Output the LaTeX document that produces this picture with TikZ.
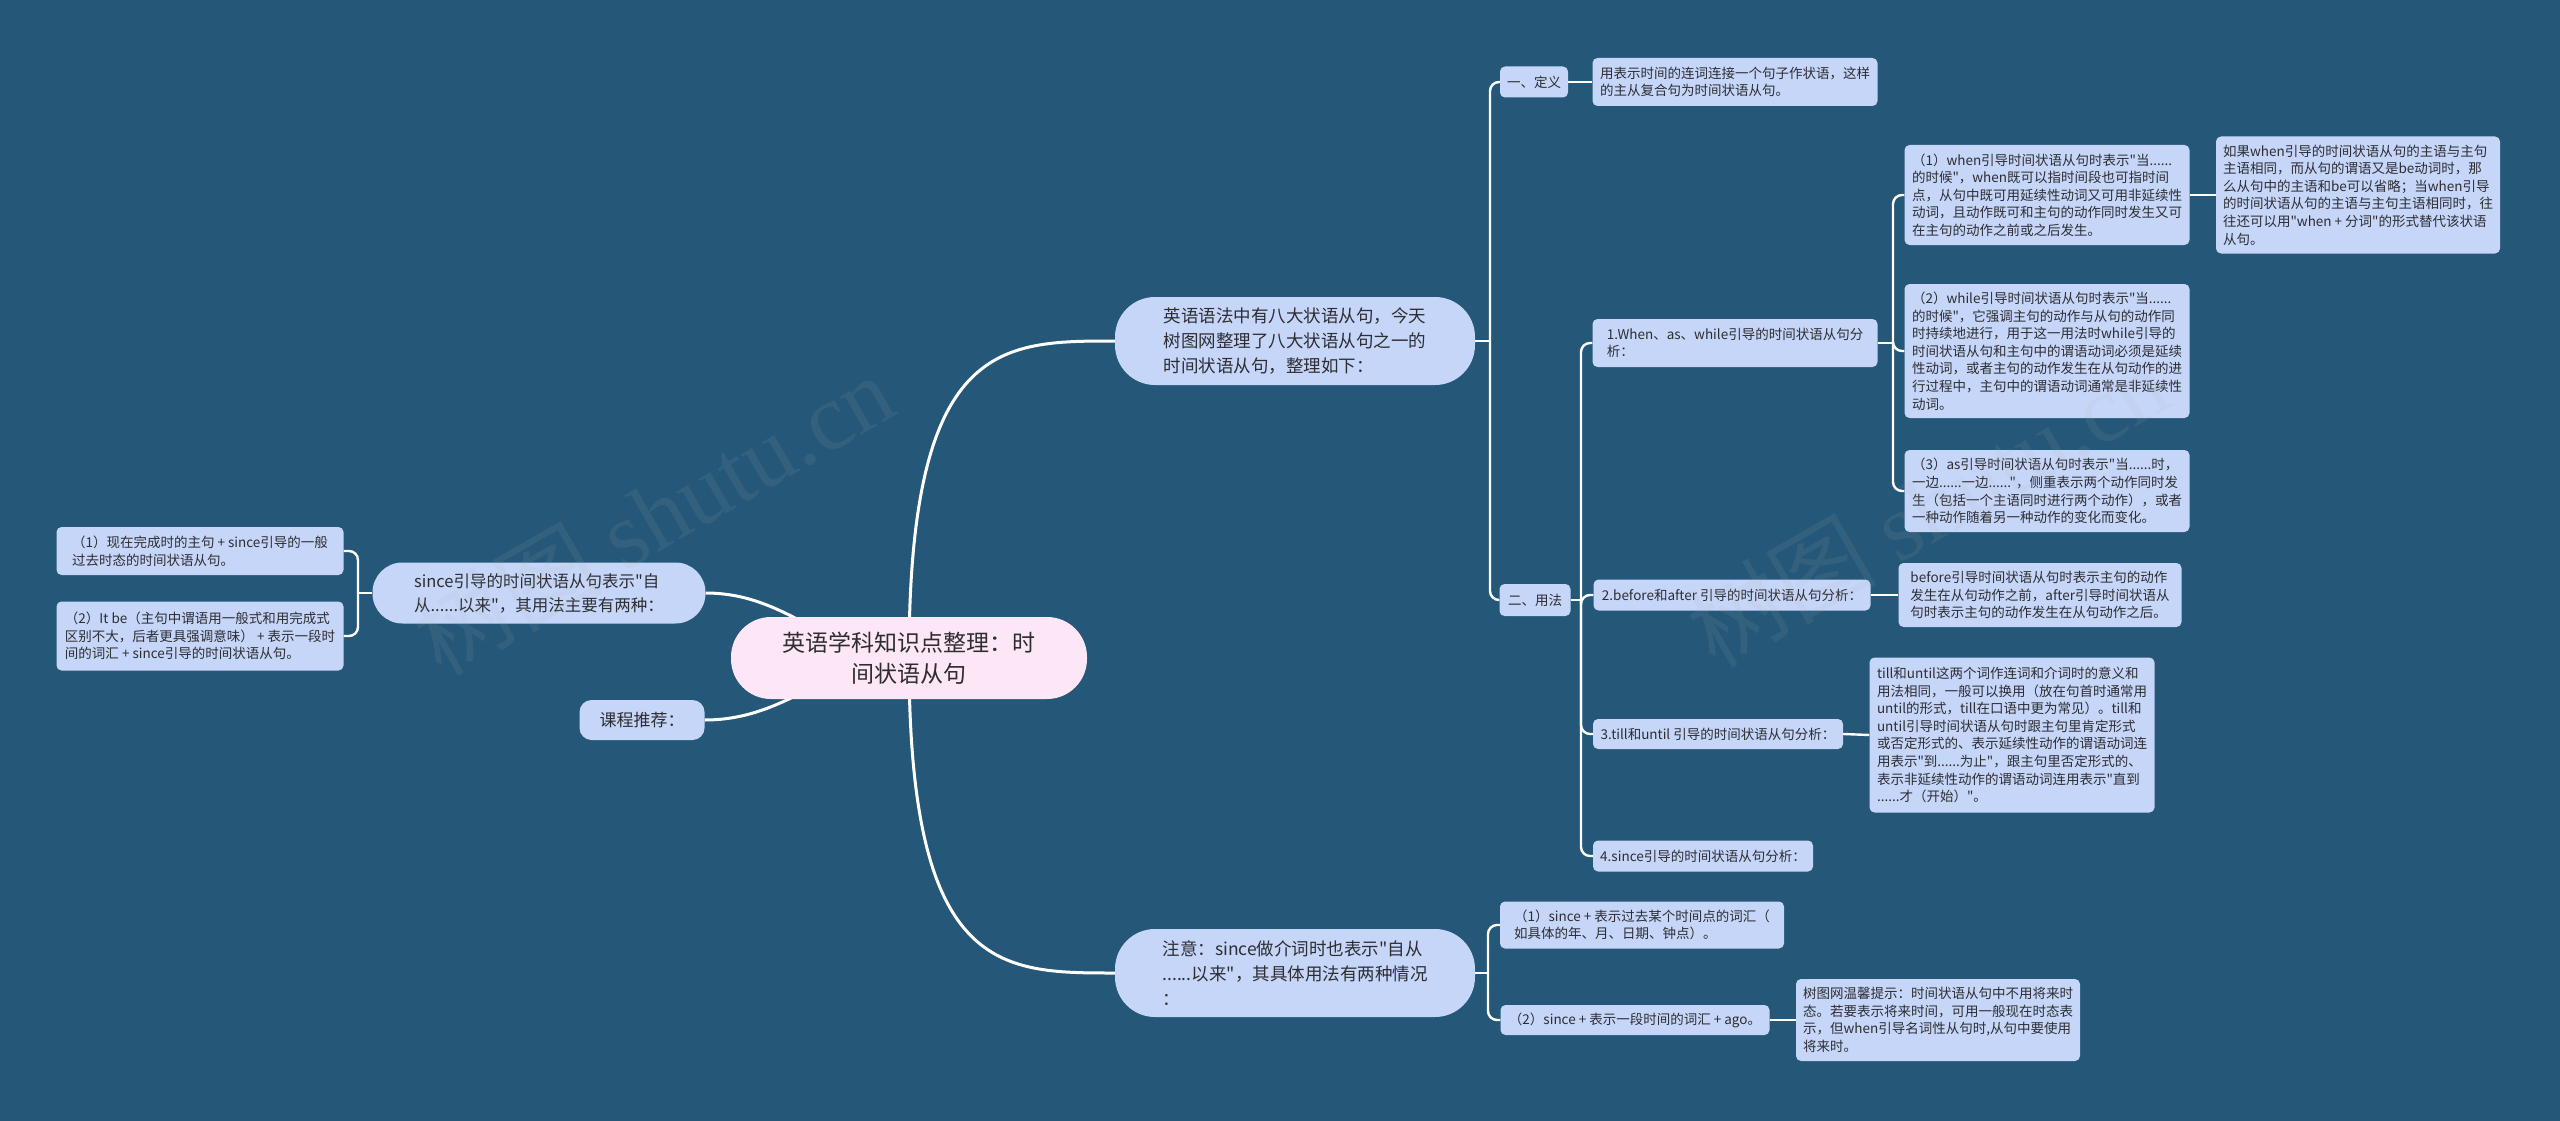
\documentclass[tikz,border=0pt]{standalone}
\usepackage{fontspec}
\newfontfamily\cjk{Noto Sans CJK SC}
\newfontfamily\wmserif{Liberation Serif}
\usetikzlibrary{backgrounds}
\definecolor{bgblue}{RGB}{37,87,120}
\definecolor{nodeblue}{RGB}{198,214,248}
\definecolor{rootpink}{RGB}{253,230,245}
\definecolor{txt}{RGB}{45,45,50}
\tikzset{
  box/.style={fill=nodeblue, text=txt, align=left, inner sep=0pt, anchor=center},
  leaf/.style={box, rounded corners=5pt, font=\cjk\fontsize{13.5}{17.6}\selectfont},
  pill/.style={box, rounded corners=40pt, font=\cjk\fontsize{17.5}{25}\selectfont},
  rootbox/.style={box, fill=rootpink, align=center, rounded corners=40pt, font=\cjk\fontsize{23}{31}\selectfont},
  conn/.style={draw=white, line width=2.4pt},
  bconn/.style={draw=white, line width=2.4pt, rounded corners=9pt},
  mainconn/.style={draw=white, line width=3pt},
  wmark/.style={text=gray!60, opacity=0.1, rotate=30, font=\cjk\fontsize{95}{95}\selectfont}
}
\begin{document}
\begin{tikzpicture}[x=1pt,y=-1pt]
\useasboundingbox (0,0) rectangle (2560,1121);
% nodes
\node[rootbox, minimum width=356pt, minimum height=82pt] (root) at (909,658) {英语学科知识点整理：时\\间状语从句};
\node[pill, minimum width=360pt, minimum height=88pt] (b1) at (1295,341) {英语语法中有八大状语从句，今天\\树图网整理了八大状语从句之一的\\时间状语从句，整理如下：};
\node[pill, minimum width=360pt, minimum height=88pt] (b3) at (1295,973) {注意：since做介词时也表示"自从\\......以来"，其具体用法有两种情况\\：};
\node[pill, rounded corners=30pt, font=\cjk\fontsize{16.5}{24}\selectfont, minimum width=333pt, minimum height=61pt] (bl) at (539,593) {since引导的时间状语从句表示"自\\从......以来"，其用法主要有两种：};
\node[pill, rounded corners=12pt, font=\cjk\fontsize{17}{24}\selectfont, minimum width=125pt, minimum height=40pt] (kc) at (642,720) {课程推荐：};
\node[leaf, minimum width=287pt, minimum height=48pt] (l1) at (200,551) {（1）现在完成时的主句 + since引导的一般\\过去时态的时间状语从句。};
\node[leaf, minimum width=287pt, minimum height=69pt] (l2) at (200,636) {（2）It be（主句中谓语用一般式和用完成式\\区别不大，后者更具强调意味） + 表示一段时\\间的词汇 + since引导的时间状语从句。};
\node[leaf, minimum width=68pt, minimum height=31pt] (def0) at (1534,82) {一、定义};
\node[leaf, minimum width=285pt, minimum height=48pt] (def) at (1735,82) {用表示时间的连词连接一个句子作状语，这样\\的主从复合句为时间状语从句。};
\node[leaf, minimum width=71pt, minimum height=32pt] (yf) at (1535,600) {二、用法};
\node[leaf, minimum width=285pt, minimum height=48pt] (u1) at (1735,343) {1.When、as、while引导的时间状语从句分\\析：};
\node[leaf, minimum width=285pt, minimum height=100pt] (w1) at (2047,195) {（1）when引导时间状语从句时表示"当......\\的时候"，when既可以指时间段也可指时间\\点，从句中既可用延续性动词又可用非延续性\\动词，且动作既可和主句的动作同时发生又可\\在主句的动作之前或之后发生。};
\node[leaf, minimum width=284pt, minimum height=117pt] (wn) at (2358,195) {如果when引导的时间状语从句的主语与主句\\主语相同，而从句的谓语又是be动词时，那\\么从句中的主语和be可以省略；当when引导\\的时间状语从句的主语与主句主语相同时，往\\往还可以用"when + 分词"的形式替代该状语\\从句。};
\node[leaf, minimum width=285pt, minimum height=134pt] (w2) at (2047,351) {（2）while引导时间状语从句时表示"当......\\的时候"，它强调主句的动作与从句的动作同\\时持续地进行，用于这一用法时while引导的\\时间状语从句和主句中的谓语动词必须是延续\\性动词，或者主句的动作发生在从句动作的进\\行过程中，主句中的谓语动词通常是非延续性\\动词。};
\node[leaf, minimum width=285pt, minimum height=82pt] (w3) at (2047,491) {（3）as引导时间状语从句时表示"当......时，\\一边......一边......"，侧重表示两个动作同时发\\生（包括一个主语同时进行两个动作），或者\\一种动作随着另一种动作的变化而变化。};
\node[leaf, minimum width=277pt, minimum height=31pt] (u2) at (1732,595) {2.before和after 引导的时间状语从句分析：};
\node[leaf, minimum width=283pt, minimum height=64pt] (bt) at (2040,595) {before引导时间状语从句时表示主句的动作\\发生在从句动作之前，after引导时间状语从\\句时表示主句的动作发生在从句动作之后。};
\node[leaf, minimum width=250pt, minimum height=30pt] (u3) at (1718,734) {3.till和until 引导的时间状语从句分析：};
\node[leaf, minimum width=285pt, minimum height=155pt] (tt) at (2012,735) {till和until这两个词作连词和介词时的意义和\\用法相同，一般可以换用（放在句首时通常用\\until的形式，till在口语中更为常见）。till和\\until引导时间状语从句时跟主句里肯定形式\\或否定形式的、表示延续性动作的谓语动词连\\用表示"到......为止"，跟主句里否定形式的、\\表示非延续性动作的谓语动词连用表示"直到\\......才（开始）"。};
\node[leaf, minimum width=220pt, minimum height=31pt] (u4) at (1703,856) {4.since引导的时间状语从句分析：};
\node[leaf, minimum width=284pt, minimum height=47pt] (s1) at (1642,925) {（1）since + 表示过去某个时间点的词汇（\\如具体的年、月、日期、钟点）。};
\node[leaf, minimum width=269pt, minimum height=30pt] (s2) at (1635,1020) {（2）since + 表示一段时间的词汇 + ago。};
\node[leaf, minimum width=284pt, minimum height=82pt] (tip) at (1938,1020) {树图网温馨提示：时间状语从句中不用将来时\\态。若要表示将来时间，可用一般现在时态表\\示，但when引导名词性从句时,从句中要使用\\将来时。};
% junctions
\coordinate (jb1) at (1490,341);
\coordinate (jyf) at (1581,600);
\coordinate (ju1) at (1893,343);
\coordinate (jb3) at (1488,973);
\coordinate (jbl) at (358,593);
\begin{scope}[on background layer]
\fill[bgblue] (0,0) rectangle (2560,1121);
\draw[mainconn] (root.center) .. controls (909,341) and (1000,341) .. (b1.west);
\draw[mainconn] (root.center) .. controls (909,973) and (1000,973) .. (b3.west);
\draw[mainconn] (bl.east) .. controls (790,593) and (830,658) .. (root.center);
\draw[mainconn] (kc.east) .. controls (790,720) and (830,658) .. (root.center);
\draw[conn] (bl.west) -- (jbl);
\draw[bconn] (jbl) |- (l1.east);
\draw[bconn] (jbl) |- (l2.east);
\draw[conn] (b1.east) -- (jb1);
\draw[bconn] (jb1) |- (def0.west);
\draw[bconn] (jb1) |- (yf.west);
\draw[conn] (def0.east) -- (def.west);
\draw[conn] (yf.east) -- (jyf);
\draw[bconn] (jyf) |- (u1.west);
\draw[bconn] (jyf) |- (u2.west);
\draw[bconn] (jyf) |- (u3.west);
\draw[bconn] (jyf) |- (u4.west);
\draw[conn] (u1.east) -- (ju1);
\draw[bconn] (ju1) |- (w1.west);
\draw[bconn] (ju1) |- (w2.west);
\draw[bconn] (ju1) |- (w3.west);
\draw[conn] (w1.east) -- (wn.west);
\draw[conn] (u2.east) -- (bt.west);
\draw[conn] (u3.east) -- (tt.west);
\draw[conn] (b3.east) -- (jb3);
\draw[bconn] (jb3) |- (s1.west);
\draw[bconn] (jb3) |- (s2.west);
\draw[conn] (s2.east) -- (tip.west);
\end{scope}
% watermarks
\node[wmark] (wm1) at (653,514) {树图 {\wmserif shutu.cn}};
\node[wmark] (wm2) at (1927,506) {树图 {\wmserif shutu.cn}};
\end{tikzpicture}
\end{document}
